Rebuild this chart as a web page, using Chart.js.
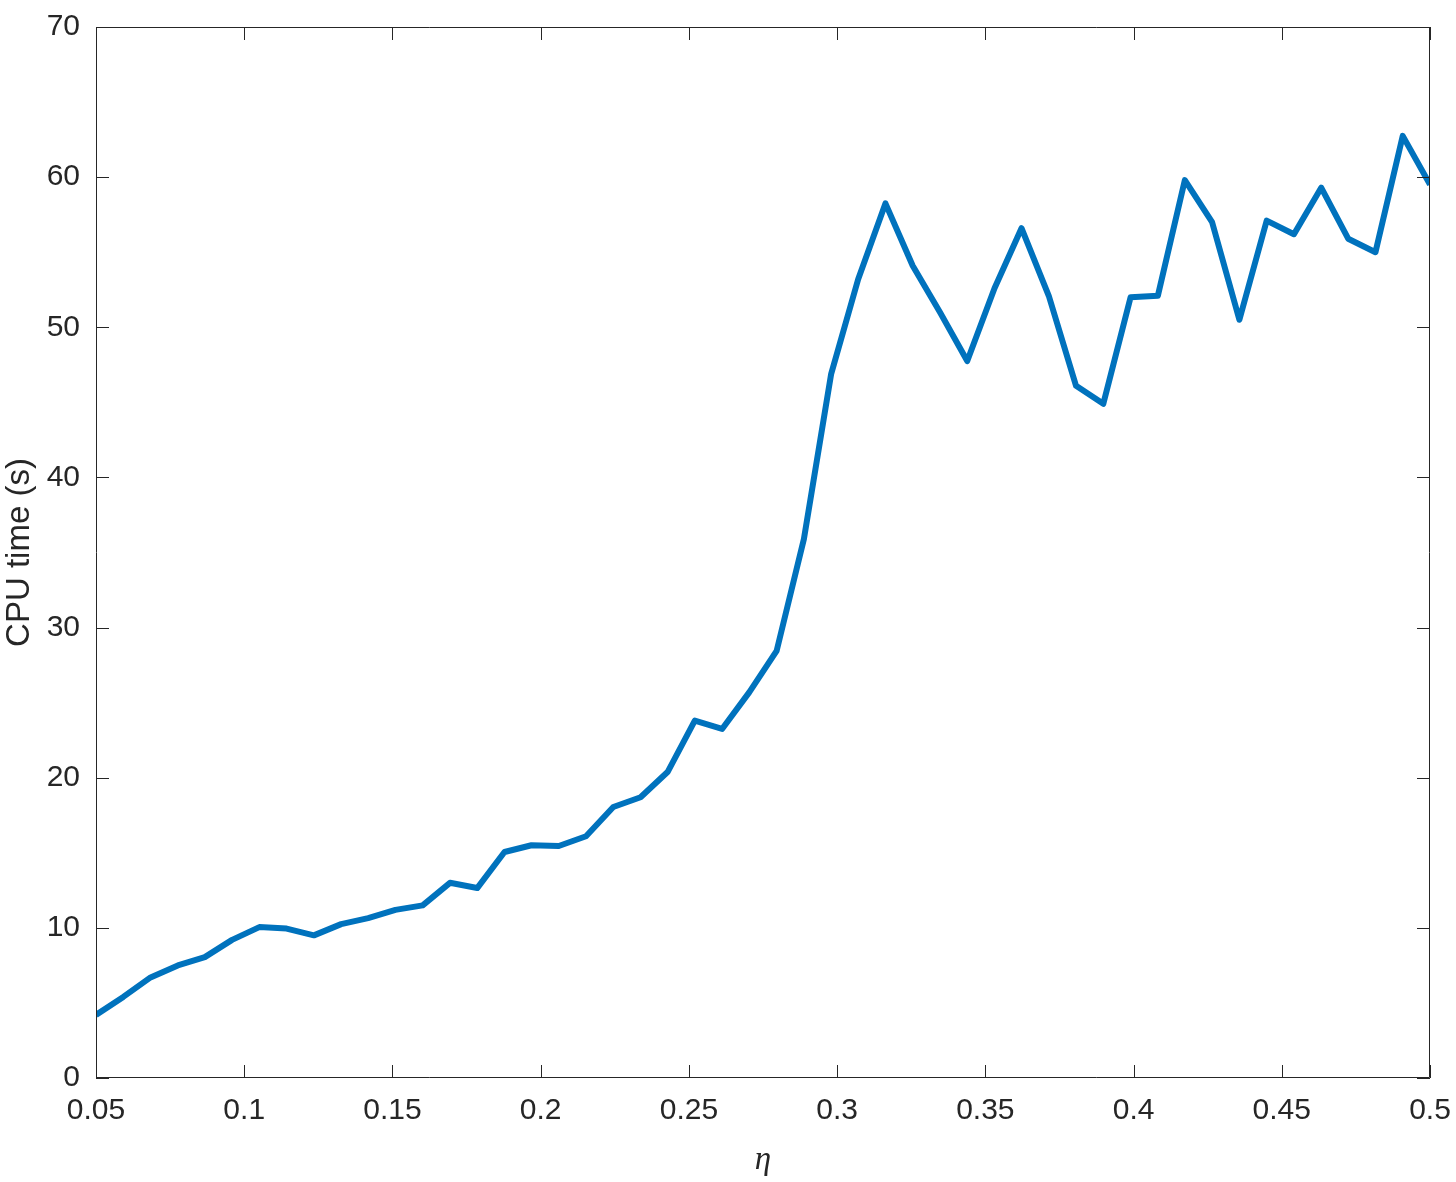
<!DOCTYPE html>
<html>
<head>
<meta charset="utf-8">
<script src="https://cdn.jsdelivr.net/npm/chart.js@4"></script>
<style>
  html, body { margin: 0; padding: 0; background: #fff; }
  #wrap { width: 1456px; height: 1182px; }
</style>
</head>
<body>
<div id="wrap"><canvas id="cpuChart" width="1456" height="1182"></canvas></div>
<script>
// eta values (x) and CPU time in seconds (y)
const etaValues = [
    0.0500, 0.0592, 0.0684, 0.0776, 0.0867, 0.0959, 0.1051, 0.1143, 0.1235, 0.1327,
    0.1418, 0.1510, 0.1602, 0.1694, 0.1786, 0.1878, 0.1969, 0.2061, 0.2153, 0.2245,
    0.2337, 0.2429, 0.2520, 0.2612, 0.2704, 0.2796, 0.2888, 0.2980, 0.3071, 0.3163,
    0.3255, 0.3347, 0.3439, 0.3531, 0.3622, 0.3714, 0.3806, 0.3898, 0.3990, 0.4082,
    0.4173, 0.4265, 0.4357, 0.4449, 0.4541, 0.4633, 0.4724, 0.4816, 0.4908, 0.5000
];
const cpuTime = [
    4.2, 5.4, 6.7, 7.5, 8.05, 9.2, 10.05, 9.95, 9.5, 10.25,
    10.65, 11.2, 11.5, 13.0, 12.65, 15.05, 15.5, 15.45, 16.1, 18.05,
    18.7, 20.4, 23.8, 23.25, 25.7, 28.45, 35.9, 46.9, 53.2, 58.25,
    54.1, 51.0, 47.75, 52.6, 56.6, 52.1, 46.1, 44.9, 52.0, 52.1,
    59.8, 57.0, 50.5, 57.1, 56.2, 59.3, 55.9, 55.0, 62.75, 59.5
];
const xTicks = [0.05, 0.1, 0.15, 0.2, 0.25, 0.3, 0.35, 0.4, 0.45, 0.5];
const yTicks = [0, 10, 20, 30, 40, 50, 60, 70];

const axisColor = "#262626";
const sansFamily = "'Liberation Sans', Arial, Helvetica, sans-serif";
const tickFont = { family: sansFamily, size: 30 };

// MATLAB-like box with inward ticks on all four sides
const boxPlugin = {
    id: "box",
    afterDraw(chart) {
        const { ctx, chartArea: a, scales } = chart;
        const len = 13;
        ctx.save();
        ctx.strokeStyle = axisColor;
        ctx.lineWidth = 1;
        ctx.beginPath();
        ctx.rect(a.left + 0.5, a.top + 0.5, a.right - a.left - 1, a.bottom - a.top - 1);
        scales.x.ticks.forEach(t => {
            const px = Math.round(scales.x.getPixelForValue(t.value)) + 0.5;
            ctx.moveTo(px, a.bottom);
            ctx.lineTo(px, a.bottom - len);
            ctx.moveTo(px, a.top);
            ctx.lineTo(px, a.top + len);
        });
        scales.y.ticks.forEach(t => {
            const py = Math.round(scales.y.getPixelForValue(t.value)) + 0.5;
            ctx.moveTo(a.left, py);
            ctx.lineTo(a.left + len, py);
            ctx.moveTo(a.right, py);
            ctx.lineTo(a.right - len, py);
        });
        ctx.stroke();
        ctx.restore();
    }
};

// keep the plot box where the layout padding puts it
function noEdgePadding(s) {
    s.paddingLeft = 0;
    s.paddingRight = 0;
    s.paddingTop = 0;
    s.paddingBottom = 0;
}

new Chart(
    document.getElementById("cpuChart"),
    {
        type: "line",

        data: {
            datasets: [{
                label: "CPU time",
                data: etaValues.map((x, i) => ({ x: x, y: cpuTime[i] })),
                borderColor: "#0072BD",
                borderWidth: 6,
                borderJoinStyle: "round",
                pointRadius: 0,
                tension: 0,
                fill: false
            }]
        },

        options: {
            responsive: false,
            animation: false,
            layout: { padding: { top: 27, right: 26, left: 0, bottom: 0 } },
            plugins: {
                legend: { display: false },
                tooltip: { enabled: false }
            },
            scales: {
                x: {
                    type: "linear",
                    min: 0.05,
                    max: 0.5,
                    afterBuildTicks: s => { s.ticks = xTicks.map(v => ({ value: v })); },
                    afterFit: s => { s.height = 104; noEdgePadding(s); },
                    grid: { display: false, drawTicks: false },
                    border: { display: false },
                    ticks: {
                        color: axisColor,
                        font: tickFont,
                        padding: 15,
                        maxRotation: 0,
                        autoSkip: false,
                        callback: v => String(+v.toFixed(2))
                    },
                    title: {
                        display: true,
                        text: "η",
                        color: axisColor,
                        font: { family: "'Liberation Serif', 'DejaVu Serif', serif", size: 33, style: "italic" },
                        padding: { top: 0, bottom: 2 }
                    }
                },
                y: {
                    min: 0,
                    max: 70,
                    afterBuildTicks: s => { s.ticks = yTicks.map(v => ({ value: v })); },
                    afterFit: s => { s.width = 96; noEdgePadding(s); },
                    grid: { display: false, drawTicks: false },
                    border: { display: false },
                    ticks: {
                        color: axisColor,
                        font: tickFont,
                        padding: 16,
                        autoSkip: false
                    },
                    title: {
                        display: true,
                        text: "CPU time (s)",
                        color: axisColor,
                        font: { family: sansFamily, size: 33 },
                        padding: { top: 0, bottom: 0 }
                    }
                }
            }
        },

        plugins: [boxPlugin]
    }
);
</script>
</body>
</html>
